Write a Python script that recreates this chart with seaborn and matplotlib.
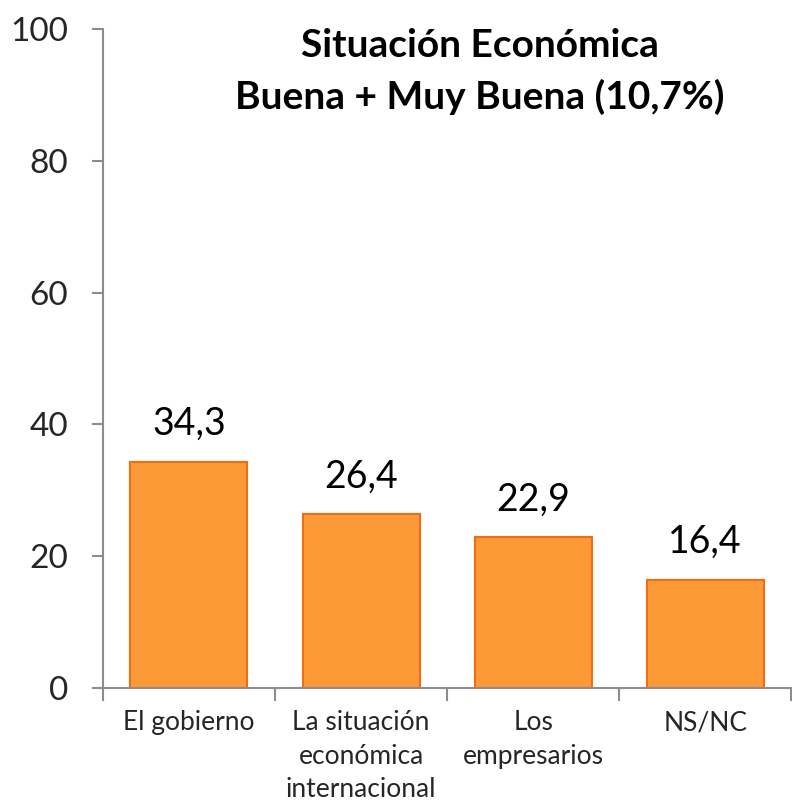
import matplotlib
matplotlib.use("Agg")
import matplotlib.pyplot as plt
import seaborn as sns
import pandas as pd
from matplotlib.ticker import FixedLocator

# -----------------------------
# Data
# -----------------------------
categories = [
    "El gobierno",
    "La situación\neconómica\ninternacional",
    "Los\nempresarios",
    "NS/NC",
]
values = [34.3, 26.4, 22.9, 16.4]
value_labels = ["34,3", "26,4", "22,9", "16,4"]
title_lines = ["Situación Económica", "Buena + Muy Buena (10,7%)"]

df = pd.DataFrame({"categoria": categories, "valor": values})

sns.set_theme(style="white")
plt.rcParams["font.family"] = ["Lato", "DejaVu Sans"]

axis_grey = "#8c8c8c"

fig = plt.figure(figsize=(7.92, 8.08), dpi=100)
ax = fig.add_axes([0.130, 0.1485, 0.869, 0.8155])

sns.barplot(
    data=df,
    x="categoria",
    y="valor",
    color="#FD9A38",
    saturation=1,
    width=0.68,
    edgecolor="#F46B10",
    linewidth=1.5,
    ax=ax,
)

# data labels
for i, (v, lab) in enumerate(zip(values, value_labels)):
    ax.text(i, v + 3.0, lab, ha="center", va="bottom", fontsize=27, color="black")

# -----------------------------
# Axes styling
# -----------------------------
ax.set_ylim(0, 100)
ax.set_xlim(-0.5, len(categories) - 0.5)
ax.set_yticks([0, 20, 40, 60, 80, 100])
ax.tick_params(axis="y", which="major", labelsize=24, length=8, width=1.5,
               color=axis_grey, left=True, pad=17)
ax.set_xticks(range(len(categories)))
ax.set_xticklabels(categories, linespacing=1.42, fontsize=19)
ax.tick_params(axis="x", which="major", length=0, pad=16)
ax.xaxis.set_minor_locator(FixedLocator([i - 0.5 for i in range(len(categories) + 1)]))
ax.tick_params(axis="x", which="minor", length=9, width=1.5, color=axis_grey, bottom=True)

ax.set_xlabel("")
ax.set_ylabel("")

for side in ["top", "right"]:
    ax.spines[side].set_visible(False)
for side in ["left", "bottom"]:
    ax.spines[side].set_color(axis_grey)
    ax.spines[side].set_linewidth(1.5)

# -----------------------------
# Title
# -----------------------------
fig.text(0.606, 0.944, title_lines[0], ha="center", va="center",
         fontsize=28, fontweight="bold", color="black")
fig.text(0.606, 0.880, title_lines[1], ha="center", va="center",
         fontsize=28, fontweight="bold", color="black")

fig.savefig("out.png", dpi=100)
plt.close(fig)
